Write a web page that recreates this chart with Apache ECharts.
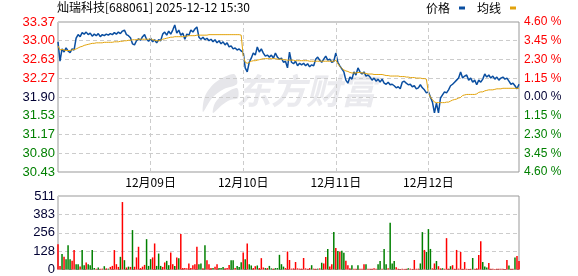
<!DOCTYPE html>
<html><head><meta charset="utf-8">
<script src="https://cdn.jsdelivr.net/npm/echarts@6/dist/echarts.min.js"></script>
<style>html,body{margin:0;padding:0;background:#fff}#c{width:578px;height:276px}</style>
</head><body><div id="c"></div>
<script>
const titleText = '灿瑞科技[688061] 2025-12-12 15:30';
const dayLabels = ['12月08日','12月09日','12月10日','12月11日','12月12日'];
const prevClose = 31.90;
const pctRange = 4.60;
const volMax = 511;

const price1 = [32.98,32.60,32.84,32.78,32.86,32.80,32.77,32.84,32.82,33.05,33.12,33.08,33.16,33.13,33.17,33.12,33.15,33.09,33.13,33.10,33.14,33.08,33.12,33.10,33.13,33.11,33.14,33.12,33.16,33.13,33.17,33.14,33.19,33.21,33.12,33.10,33.06,32.94,32.92,33.00,33.04,33.01,33.08,33.12,33.03,32.99];
const price2 = [33.05,32.98,33.02,32.96,33.02,33.00,33.13,33.17,33.11,33.19,33.13,33.21,33.31,33.15,33.21,33.11,33.15,33.03,33.13,33.11,33.21,33.17,33.23,33.27,33.07,33.03,33.07,33.02,33.05,33.00,33.03,32.98,33.02,32.96,33.00,32.94,32.98,32.92,32.96,32.88,32.90,32.84,32.86,32.82,32.84,32.80];
const price3 = [32.78,32.47,32.39,32.58,32.66,32.76,32.72,32.88,32.78,32.84,32.76,32.70,32.72,32.68,32.72,32.66,32.76,32.68,32.64,32.66,32.58,32.60,32.47,32.78,32.58,32.55,32.60,32.51,32.56,32.53,32.56,32.51,32.55,32.49,32.53,32.51,32.64,32.68,32.62,32.58,32.64,32.70,32.62,32.64,32.58,32.60];
const price4 = [32.76,32.58,32.51,32.45,32.39,32.23,32.17,32.29,32.25,32.39,32.33,32.47,32.39,32.35,32.39,32.31,32.33,32.29,32.23,32.27,32.21,32.25,32.19,32.25,32.17,32.15,32.19,32.14,32.15,32.12,32.08,32.10,32.06,32.19,32.21,32.17,32.14,32.15,32.10,32.12,32.06,32.08,32.14,32.08,32.04,31.98];
const price5 = [32.00,31.90,31.80,31.59,31.78,31.59,31.88,31.94,32.00,31.98,32.04,32.12,32.15,32.19,32.23,32.27,32.39,32.27,32.31,32.33,32.23,32.27,32.19,32.23,32.14,32.23,32.19,32.25,32.35,32.29,32.33,32.27,32.31,32.25,32.29,32.23,32.27,32.29,32.25,32.27,32.21,32.15,32.17,32.12,32.06,32.15];

const avg1 = [32.90,32.82,32.83,32.82,32.81,32.81,32.81,32.82,32.83,32.84,32.86,32.88,32.89,32.91,32.92,32.93,32.94,32.95,32.95,32.96,32.96,32.96,32.96,32.97,32.97,32.97,32.97,32.97,32.98,32.98,32.98,32.99,32.99,33.00,33.00,33.01,33.01,33.02,33.02,33.02,33.03,33.03,33.03,33.03,33.03,33.03];
const avg2 = [33.04,33.02,33.01,33.00,33.00,33.01,33.03,33.04,33.05,33.06,33.07,33.07,33.08,33.08,33.08,33.08,33.08,33.09,33.09,33.10,33.10,33.10,33.10,33.11,33.11,33.11,33.11,33.11,33.11,33.12,33.12,33.12,33.12,33.12,33.12,33.12,33.12,33.12,33.12,33.12,33.12,33.12,33.12,33.12,33.12,33.11];
const avg3 = [32.70,32.58,32.56,32.58,32.60,32.61,32.61,32.62,32.63,32.64,32.65,32.65,32.65,32.65,32.65,32.65,32.65,32.64,32.64,32.64,32.63,32.63,32.62,32.62,32.62,32.62,32.61,32.61,32.61,32.61,32.61,32.61,32.61,32.60,32.60,32.60,32.60,32.60,32.60,32.60,32.60,32.60,32.60,32.60,32.60,32.60];
const avg4 = [32.62,32.55,32.50,32.46,32.43,32.41,32.40,32.38,32.37,32.37,32.37,32.38,32.38,32.37,32.37,32.36,32.35,32.35,32.35,32.34,32.34,32.34,32.34,32.34,32.33,32.32,32.32,32.31,32.31,32.31,32.31,32.31,32.30,32.30,32.30,32.29,32.29,32.28,32.28,32.28,32.27,32.27,32.27,32.26,32.26,32.25];
const avg5 = [31.98,31.90,31.85,31.80,31.79,31.79,31.79,31.79,31.79,31.80,31.80,31.82,31.84,31.85,31.86,31.88,31.89,31.93,31.94,31.95,31.95,31.95,31.95,31.95,31.96,31.99,32.00,32.00,32.02,32.03,32.04,32.04,32.04,32.05,32.06,32.06,32.06,32.07,32.07,32.07,32.07,32.07,32.07,32.07,32.07,32.07];

const vol1 = [176,25,107,88,72,169,72,60,135,37,37,20,135,30,49,37,30,135,10,6,14,5,6,23,8,6,18,25,135,37,18,88,469,65,14,20,18,274,19,84,158,10,20,32,211,25];
const vol2 = [72,84,181,25,111,25,18,49,60,30,118,37,25,84,79,246,10,10,8,42,10,30,37,158,37,42,8,169,65,37,10,10,19,37,10,10,18,8,10,32,65,65,10,25,18,51];
const vol3 = [118,72,181,37,28,10,23,28,10,79,14,10,10,25,8,6,10,10,102,37,20,10,125,66,6,8,52,8,6,6,80,8,5,10,30,6,5,6,8,47,42,87,143,20,37,260];
const vol4 = [150,129,124,131,117,61,30,8,30,6,6,30,5,6,37,37,6,5,6,8,6,37,59,6,143,37,8,325,42,59,16,5,4,5,4,5,9,6,4,66,5,6,42,260,136,122];
const vol5 = [281,143,8,42,59,23,8,9,5,218,6,23,30,5,136,6,122,5,52,5,4,5,80,5,8,101,197,52,20,14,45,6,5,4,5,6,5,5,4,66,28,6,6,84,94,59];

// r = up (red), g = down (green)
const dir1 = 'rrgrgggrrg' + 'grggrggggr' + 'grrgrgrrrr' + 'rgrgrgrgrr' + 'rrrrgg';
const dir2 = 'grrgggrrgg' + 'rrgrgrrrrr' + 'rrrrggrgrr' + 'rgrrgggrrr' + 'ggrggg';
const dir3 = 'rgrggrrgrr' + 'rgrggrgggg' + 'grrrrrrrrr' + 'rrrrgrrgrg' + 'rrgrrg';
const dir4 = 'rgrggrrrgr' + 'rgrrrgrrrr' + 'rggrggrggg' + 'rrrrrrgrrr' + 'rrggrg';
const dir5 = 'ggrrgrrgrr' + 'rgrrrrrrrr' + 'rrgrrrrggg' + 'rrrrrrrrrr' + 'grrgrr';

const price = [].concat(price1, price2, price3, price4, price5);
const avg = [].concat(avg1, avg2, avg3, avg4, avg5);
const vol = [].concat(vol1, vol2, vol3, vol4, vol5);
const dir = (dir1 + dir2 + dir3 + dir4 + dir5).split('');
const perDay = price1.length;
const cats = [];
dayLabels.forEach(d => { for (let k = 0; k < perDay; k++) cats.push(d + '#' + k); });

const yMin = prevClose * (1 - pctRange / 100);
const yMax = prevClose * (1 + pctRange / 100);
const yInt = (yMax - yMin) / 8;
const isBoundary = i => i > 0 && i % perDay === 0;

const UP = '#ff0000', DOWN = '#008000', FLAT = '#000033';
const labelColor = v => { v = parseFloat(v); return Math.abs(v - prevClose) < 0.001 ? FLAT : (v > prevClose ? UP : DOWN); };
const numFont = 'Liberation Sans Narrow, Liberation Sans, sans-serif';

const chart = echarts.init(document.getElementById('c'), null, {renderer: 'canvas'});
chart.setOption({
  animation: false,
  textStyle: {fontFamily: 'Noto Sans CJK SC, sans-serif'},
  title: {text: titleText, left: 57, top: 1, padding: 0,
    textStyle: {fontSize: 12, fontWeight: 'normal', color: '#000', fontFamily: 'Noto Sans CJK SC, sans-serif'}},
  legend: {right: 62, top: 2, padding: 0, itemWidth: 6, itemHeight: 3, itemGap: 12, align: 'right', icon: 'rect',
    textStyle: {fontSize: 12, color: '#000', padding: [0, 4, 0, 0]},
    data: [{name: '价格', itemStyle: {color: '#0a4ea0'}}, {name: '均线', itemStyle: {color: '#e2a30c'}}]},
  graphic: [
    {type: 'polygon', z: 0, silent: true,
      shape: {points: [[234, 74], [216, 82], [205, 96], [203, 112], [212, 98], [224, 89], [237, 84]], smooth: 0.3},
      style: {fill: '#e6e6ea'}},
    {type: 'polygon', z: 0, silent: true,
      shape: {points: [[237, 88], [224, 94], [215, 103], [213, 113], [222, 105], [230, 100], [238, 98]], smooth: 0.3},
      style: {fill: '#e6e6ea'}},
    {type: 'text', left: 236, top: 73, z: 0, silent: true,
      style: {text: '东方财富', fontSize: 35, fontWeight: 'bold', fontStyle: 'italic', fill: '#eaeaee', fontFamily: 'Noto Sans CJK SC'}}
  ],
  grid: [
    {left: 58, top: 22, width: 461, height: 150, show: true, borderColor: '#999', borderWidth: 1, backgroundColor: 'transparent'},
    {left: 58, top: 196, width: 461, height: 74, show: true, borderColor: '#999', borderWidth: 1, backgroundColor: 'transparent'}
  ],
  xAxis: [
    {type: 'category', gridIndex: 0, data: cats, boundaryGap: false,
      axisLine: {show: false}, axisTick: {show: false},
      axisLabel: {interval: 0, formatter: (v, i) => isBoundary(i) ? v.split('#')[0] : '', fontSize: 12, color: '#000', margin: 4},
      splitLine: {show: false}},
    {type: 'category', gridIndex: 1, data: cats, boundaryGap: false,
      axisLine: {show: false}, axisTick: {show: false}, axisLabel: {show: false}, splitLine: {show: false}}
  ],
  yAxis: [
    {type: 'value', gridIndex: 0, min: yMin, max: yMax, interval: yInt, position: 'left',
      axisLine: {show: false}, axisTick: {show: false},
      axisLabel: {formatter: v => v.toFixed(2), color: labelColor, fontSize: 13, margin: 3, fontFamily: numFont},
      splitLine: {lineStyle: {color: '#ccc', type: [4, 3]}}},
    {type: 'value', gridIndex: 0, min: yMin, max: yMax, interval: yInt, position: 'right',
      axisLine: {show: false}, axisTick: {show: false},
      axisLabel: {formatter: v => (Math.abs(v - prevClose) / prevClose * 100).toFixed(2) + ' %', color: labelColor, fontSize: 12, margin: 5, fontFamily: numFont},
      splitLine: {show: false}},
    {type: 'value', gridIndex: 1, min: 0, max: volMax, interval: volMax / 4,
      axisLine: {show: false}, axisTick: {show: false},
      axisLabel: {formatter: v => String(Math.round(v)), color: '#000033', fontSize: 13, margin: 3, fontFamily: numFont},
      splitLine: {lineStyle: {color: '#ccc', type: [4, 3]}}}
  ],
  series: [
    {name: '价格', type: 'line', xAxisIndex: 0, yAxisIndex: 0, data: price, symbol: 'none', z: 3,
      lineStyle: {color: '#0a4ea0', width: 1.5}, itemStyle: {color: '#0a4ea0'},
      markLine: {silent: true, symbol: 'none', label: {show: false}, animation: false,
        lineStyle: {color: '#ccc', type: [4, 3], width: 1},
        data: dayLabels.slice(1).map((d, j) => ({xAxis: cats[(j + 1) * perDay]}))}},
    {name: '均线', type: 'line', xAxisIndex: 0, yAxisIndex: 0, data: avg, symbol: 'none', z: 4,
      lineStyle: {color: '#e2a30c', width: 1}, itemStyle: {color: '#e2a30c'}},
    {name: '成交量', type: 'bar', xAxisIndex: 1, yAxisIndex: 2, barWidth: 1.5,
      data: vol.map((v, i) => ({value: v, itemStyle: {color: dir[i] === 'r' ? UP : DOWN}}))}
  ]
});
</script></body></html>
